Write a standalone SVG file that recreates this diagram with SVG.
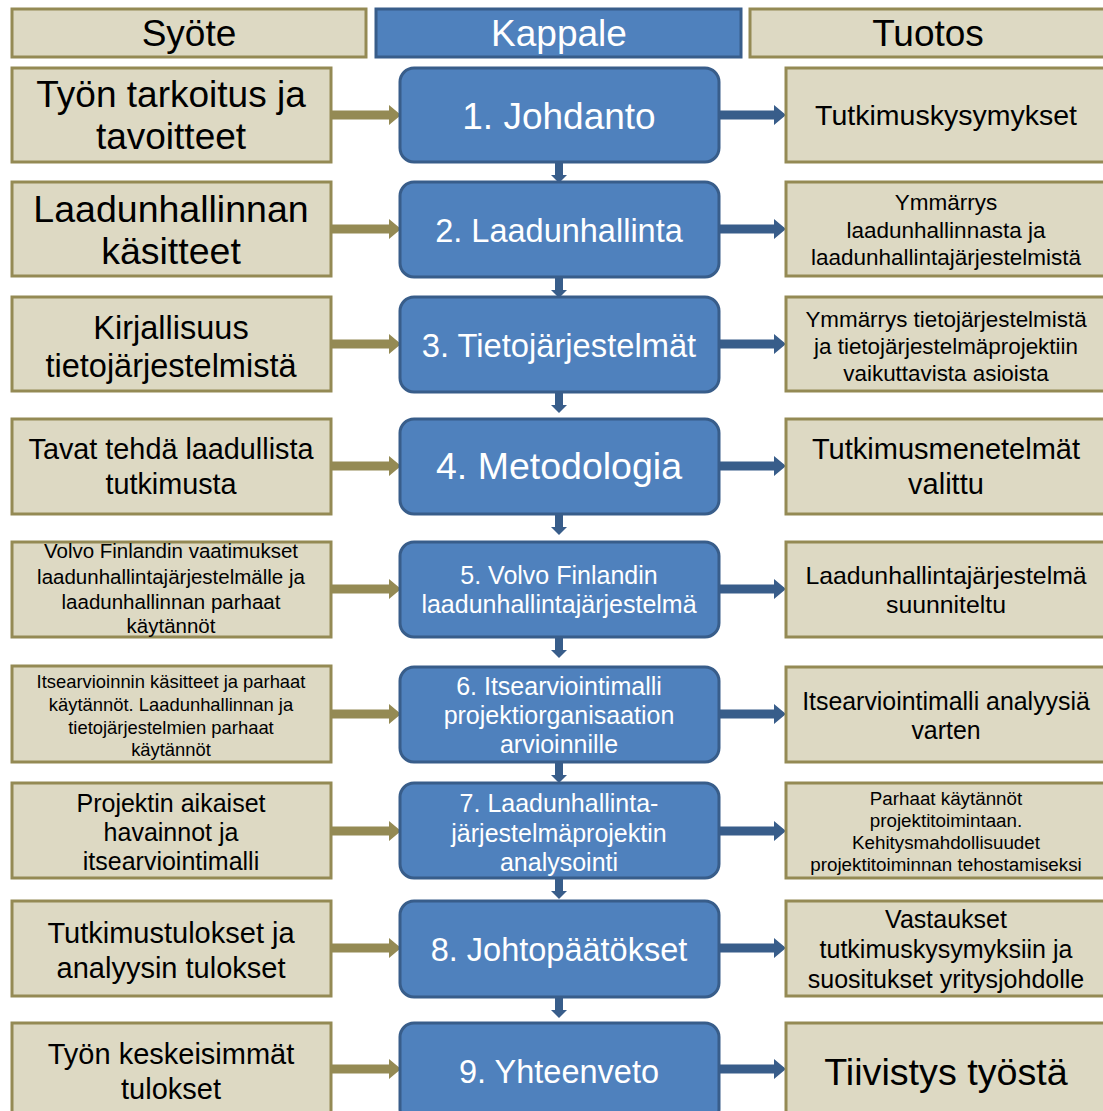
<svg xmlns="http://www.w3.org/2000/svg" width="1103" height="1111" viewBox="0 0 1103 1111">
  <defs>
    <style>
      .in { fill: #DDD9C3; stroke: #948A54; stroke-width: 3; }
      .ch { fill: #4F81BD; stroke: #385D8A; stroke-width: 3; }
      text { font-family: "Liberation Sans", Arial, sans-serif; text-anchor: middle; }
      .dk { fill: #000000; }
      .wt { fill: #FFFFFF; }
      .ao { fill: #948A54; }
      .ab { fill: #385D8A; }
    </style>
    <!-- arrow shapes: olive input arrow, blue output arrow, blue down arrow -->
    <path id="arIn" d="M0,-4.5 H58 V-10 L70,0 L58,10 V4.5 H0 Z"/>
    <path id="arOut" d="M0,-4.5 H55 V-10 L67,0 L55,10 V4.5 H0 Z"/>
    <path id="arDown" d="M-4,0 H4 V13 H8 L0,21 L-8,13 H-4 Z"/>
  </defs>

  <rect width="1103" height="1111" fill="#FFFFFF"/>

  <!-- column headers -->
  <g id="hdr-syote">
    <rect class="in" x="12" y="9" width="354" height="48"/>
    <text class="dk" x="189" y="46" font-size="37">Syöte</text>
  </g>
  <g id="hdr-kappale">
    <rect class="ch" x="376" y="9" width="365" height="48"/>
    <text class="wt" x="559" y="46" font-size="37">Kappale</text>
  </g>
  <g id="hdr-tuotos">
    <rect class="in" x="750" y="9" width="360" height="48"/>
    <text class="dk" x="928" y="46" font-size="37">Tuotos</text>
  </g>

  <!-- connectors -->
  <g id="connectors">
    <g class="ao">
      <use href="#arIn" transform="translate(331,115)"/>
      <use href="#arIn" transform="translate(331,229)"/>
      <use href="#arIn" transform="translate(331,344)"/>
      <use href="#arIn" transform="translate(331,466)"/>
      <use href="#arIn" transform="translate(331,589)"/>
      <use href="#arIn" transform="translate(331,714)"/>
      <use href="#arIn" transform="translate(331,831)"/>
      <use href="#arIn" transform="translate(331,948)"/>
      <use href="#arIn" transform="translate(331,1069)"/>
    </g>
    <g class="ab">
      <use href="#arOut" transform="translate(719,115)"/>
      <use href="#arOut" transform="translate(719,229)"/>
      <use href="#arOut" transform="translate(719,344)"/>
      <use href="#arOut" transform="translate(719,466)"/>
      <use href="#arOut" transform="translate(719,589)"/>
      <use href="#arOut" transform="translate(719,714)"/>
      <use href="#arOut" transform="translate(719,831)"/>
      <use href="#arOut" transform="translate(719,948)"/>
      <use href="#arOut" transform="translate(719,1069)"/>
      <use href="#arDown" transform="translate(559,162)"/>
      <use href="#arDown" transform="translate(559,277)"/>
      <use href="#arDown" transform="translate(559,392)"/>
      <use href="#arDown" transform="translate(559,514)"/>
      <use href="#arDown" transform="translate(559,637)"/>
      <use href="#arDown" transform="translate(559,762)"/>
      <use href="#arDown" transform="translate(559,878)"/>
      <use href="#arDown" transform="translate(559,997)"/>
    </g>
  </g>

  <!-- row 1 -->
  <g id="in1">
    <rect class="in" x="12" y="68" width="319" height="94"/>
    <text class="dk" font-size="37"><tspan x="171" y="107">Työn tarkoitus ja</tspan><tspan x="171" y="149">tavoitteet</tspan></text>
  </g>
  <g id="ch1">
    <rect class="ch" x="400" y="68" width="319" height="94" rx="14"/>
    <text class="wt" x="559" y="129" font-size="37">1. Johdanto</text>
  </g>
  <g id="out1">
    <rect class="in" x="786" y="68" width="330" height="94"/>
    <text class="dk" x="946" y="125" font-size="28.5">Tutkimuskysymykset</text>
  </g>

  <!-- row 2 -->
  <g id="in2">
    <rect class="in" x="12" y="182" width="319" height="94"/>
    <text class="dk" font-size="37.5"><tspan x="171" y="222">Laadunhallinnan</tspan><tspan x="171" y="264">käsitteet</tspan></text>
  </g>
  <g id="ch2">
    <rect class="ch" x="400" y="182" width="319" height="95" rx="14"/>
    <text class="wt" x="559" y="242" font-size="32.5">2. Laadunhallinta</text>
  </g>
  <g id="out2">
    <rect class="in" x="786" y="182" width="330" height="94"/>
    <text class="dk" font-size="22.5"><tspan x="946" y="210">Ymmärrys</tspan><tspan x="946" y="238">laadunhallinnasta ja</tspan><tspan x="946" y="265">laadunhallintajärjestelmistä</tspan></text>
  </g>

  <!-- row 3 -->
  <g id="in3">
    <rect class="in" x="12" y="297" width="319" height="94"/>
    <text class="dk" font-size="32.5"><tspan x="171" y="339">Kirjallisuus</tspan><tspan x="171" y="377">tietojärjestelmistä</tspan></text>
  </g>
  <g id="ch3">
    <rect class="ch" x="400" y="297" width="319" height="95" rx="14"/>
    <text class="wt" x="559" y="357" font-size="32.7">3. Tietojärjestelmät</text>
  </g>
  <g id="out3">
    <rect class="in" x="786" y="297" width="330" height="94"/>
    <text class="dk" font-size="22.4"><tspan x="946" y="327">Ymmärrys tietojärjestelmistä</tspan><tspan x="946" y="354">ja tietojärjestelmäprojektiin</tspan><tspan x="946" y="381">vaikuttavista asioista</tspan></text>
  </g>

  <!-- row 4 -->
  <g id="in4">
    <rect class="in" x="12" y="419" width="319" height="95"/>
    <text class="dk" font-size="28.8"><tspan x="171" y="459">Tavat tehdä laadullista</tspan><tspan x="171" y="494">tutkimusta</tspan></text>
  </g>
  <g id="ch4">
    <rect class="ch" x="400" y="419" width="319" height="95" rx="14"/>
    <text class="wt" x="559" y="479" font-size="37.5">4. Metodologia</text>
  </g>
  <g id="out4">
    <rect class="in" x="786" y="419" width="330" height="95"/>
    <text class="dk" font-size="29"><tspan x="946" y="459">Tutkimusmenetelmät</tspan><tspan x="946" y="494">valittu</tspan></text>
  </g>

  <!-- row 5 -->
  <g id="in5">
    <rect class="in" x="12" y="542" width="319" height="95"/>
    <text class="dk" font-size="20.5"><tspan x="171" y="558">Volvo Finlandin vaatimukset</tspan><tspan x="171" y="584">laadunhallintajärjestelmälle ja</tspan><tspan x="171" y="609">laadunhallinnan parhaat</tspan><tspan x="171" y="633">käytännöt</tspan></text>
  </g>
  <g id="ch5">
    <rect class="ch" x="400" y="542" width="319" height="95" rx="14"/>
    <text class="wt" font-size="25"><tspan x="559" y="584">5. Volvo Finlandin</tspan><tspan x="559" y="613">laadunhallintajärjestelmä</tspan></text>
  </g>
  <g id="out5">
    <rect class="in" x="786" y="542" width="330" height="95"/>
    <text class="dk" font-size="24.8"><tspan x="946" y="584">Laadunhallintajärjestelmä</tspan><tspan x="946" y="613">suunniteltu</tspan></text>
  </g>

  <!-- row 6 -->
  <g id="in6">
    <rect class="in" x="12" y="666" width="319" height="96"/>
    <text class="dk" font-size="18.4"><tspan x="171" y="688">Itsearvioinnin käsitteet ja parhaat</tspan><tspan x="171" y="711">käytännöt.  Laadunhallinnan ja</tspan><tspan x="171" y="734">tietojärjestelmien parhaat</tspan><tspan x="171" y="756">käytännöt</tspan></text>
  </g>
  <g id="ch6">
    <rect class="ch" x="400" y="667" width="319" height="95" rx="14"/>
    <text class="wt" font-size="25"><tspan x="559" y="695">6. Itsearviointimalli</tspan><tspan x="559" y="724">projektiorganisaation</tspan><tspan x="559" y="753">arvioinnille</tspan></text>
  </g>
  <g id="out6">
    <rect class="in" x="786" y="667" width="330" height="95"/>
    <text class="dk" font-size="24.9"><tspan x="946" y="710">Itsearviointimalli analyysiä</tspan><tspan x="946" y="739">varten</tspan></text>
  </g>

  <!-- row 7 -->
  <g id="in7">
    <rect class="in" x="12" y="783" width="319" height="95"/>
    <text class="dk" font-size="25"><tspan x="171" y="812">Projektin aikaiset</tspan><tspan x="171" y="841">havainnot ja</tspan><tspan x="171" y="870">itsearviointimalli</tspan></text>
  </g>
  <g id="ch7">
    <rect class="ch" x="400" y="783" width="319" height="95" rx="14"/>
    <text class="wt" font-size="25"><tspan x="559" y="812">7. Laadunhallinta-</tspan><tspan x="559" y="842">järjestelmäprojektin</tspan><tspan x="559" y="871">analysointi</tspan></text>
  </g>
  <g id="out7">
    <rect class="in" x="786" y="783" width="330" height="95"/>
    <text class="dk" font-size="18.8"><tspan x="946" y="805">Parhaat käytännöt</tspan><tspan x="946" y="827">projektitoimintaan.</tspan><tspan x="946" y="849">Kehitysmahdollisuudet</tspan><tspan x="946" y="871">projektitoiminnan tehostamiseksi</tspan></text>
  </g>

  <!-- row 8 -->
  <g id="in8">
    <rect class="in" x="12" y="901" width="319" height="95"/>
    <text class="dk" font-size="29"><tspan x="171" y="943">Tutkimustulokset ja</tspan><tspan x="171" y="978">analyysin tulokset</tspan></text>
  </g>
  <g id="ch8">
    <rect class="ch" x="400" y="901" width="319" height="96" rx="14"/>
    <text class="wt" x="559" y="961" font-size="32.5">8. Johtopäätökset</text>
  </g>
  <g id="out8">
    <rect class="in" x="786" y="901" width="330" height="95"/>
    <text class="dk" font-size="25"><tspan x="946" y="928">Vastaukset</tspan><tspan x="946" y="958">tutkimuskysymyksiin ja</tspan><tspan x="946" y="988">suositukset yritysjohdolle</tspan></text>
  </g>

  <!-- row 9 -->
  <g id="in9">
    <rect class="in" x="12" y="1023" width="319" height="100"/>
    <text class="dk" font-size="29"><tspan x="171" y="1064">Työn keskeisimmät</tspan><tspan x="171" y="1099">tulokset</tspan></text>
  </g>
  <g id="ch9">
    <rect class="ch" x="400" y="1023" width="319" height="100" rx="14"/>
    <text class="wt" x="559" y="1083" font-size="32.5">9. Yhteenveto</text>
  </g>
  <g id="out9">
    <rect class="in" x="786" y="1023" width="330" height="100"/>
    <text class="dk" x="946" y="1085" font-size="37.7">Tiivistys työstä</text>
  </g>
</svg>
